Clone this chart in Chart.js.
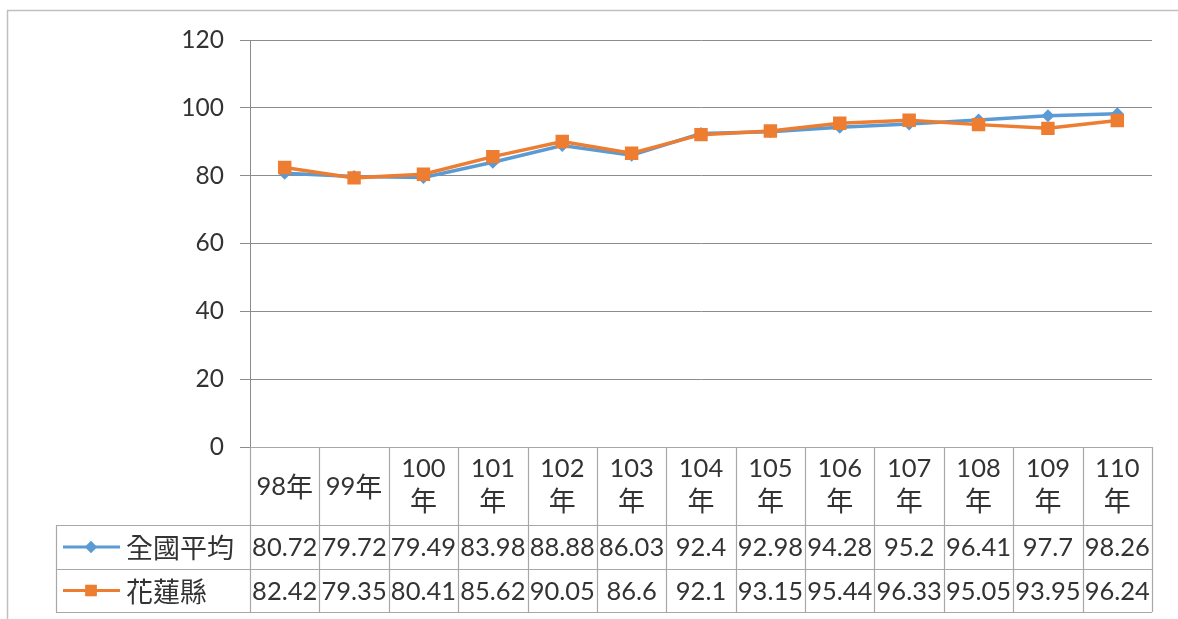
<!DOCTYPE html>
<html><head><meta charset="utf-8">
<script src="https://cdn.jsdelivr.net/npm/chart.js@4.4.1/dist/chart.umd.min.js"></script>
<style>
html,body{margin:0;padding:0;background:#fff;}
#wrap{position:relative;width:1178px;height:619px;}
</style></head>
<body>
<div id="wrap"><canvas id="c"></canvas></div>
<script>
const categories = ['98年','99年','100年','101年','102年','103年','104年','105年','106年','107年','108年','109年','110年'];
const seriesNames = ['全國平均','花蓮縣'];
const nationalAvg = [80.72,79.72,79.49,83.98,88.88,86.03,92.4,92.98,94.28,95.2,96.41,97.7,98.26];
const hualien = [82.42,79.35,80.41,85.62,90.05,86.6,92.1,93.15,95.44,96.33,95.05,93.95,96.24];
const yTicks = [0,20,40,60,80,100,120];

const BLUE = '#5B9BD5', ORANGE = '#ED7D31';
const TXT = '#333333';
const NUMF = "25.5px Lato, sans-serif";
const CJKF = "27px 'Noto Sans CJK TC', sans-serif";
const BORDER = '#a8a8a8';

function mixedText(ctx, s, cx, cy) {
  // draw string with digits in Lato and CJK in Noto, centered at cx
  const parts = s.match(/[0-9.]+|[^0-9.]+/g);
  const fonts = parts.map(p => /[0-9.]/.test(p[0]) ? NUMF : CJKF);
  let total = 0;
  const widths = parts.map((p, i) => { ctx.font = fonts[i]; const w = ctx.measureText(p).width; total += w; return w; });
  let xx = cx - total / 2;
  ctx.textAlign = 'left';
  parts.forEach((p, i) => { ctx.font = fonts[i]; ctx.fillText(p, xx, cy); xx += widths[i]; });
  ctx.textAlign = 'center';
  return total;
}

const tablePlugin = {
  id: 'dataTable',
  afterDraw(chart) {
    const ctx = chart.ctx, x = chart.scales.x, a = chart.chartArea;
    const n = categories.length;
    const colW = (a.right - a.left) / n;
    const top = a.bottom, r1 = 525, r2 = 569, bot = 612, legL = 56;
    ctx.save();
    ctx.strokeStyle = '#c0c0c0'; ctx.lineWidth = 1.5;
    ctx.beginPath(); ctx.moveTo(7.5, 619); ctx.lineTo(7.5, 10.5); ctx.lineTo(1178, 10.5); ctx.stroke();
    ctx.strokeStyle = BORDER; ctx.lineWidth = 1.2;
    ctx.beginPath();
    for (let i = 0; i <= n; i++) {
      const xx = Math.round(a.left + i * colW) + 0.5;
      ctx.moveTo(xx, top); ctx.lineTo(xx, bot);
    }
    ctx.moveTo(a.left, top + 0.5); ctx.lineTo(a.right, top + 0.5);
    [r1, r2, bot].forEach(yy => { ctx.moveTo(legL, yy + 0.5); ctx.lineTo(a.right, yy + 0.5); });
    ctx.moveTo(legL + 0.5, r1); ctx.lineTo(legL + 0.5, bot);
    ctx.stroke();
    ctx.fillStyle = TXT; ctx.textAlign = 'center'; ctx.textBaseline = 'middle';
    categories.forEach((c, i) => {
      const cx = x.getPixelForValue(i);
      const num = c.replace('年', '');
      ctx.font = NUMF;
      const wNum = ctx.measureText(num).width;
      ctx.font = CJKF;
      const wC = ctx.measureText('年').width;
      if (wNum + wC > colW - 4) {
        ctx.font = NUMF; ctx.fillText(num, cx, 469);
        ctx.font = CJKF; ctx.fillText('年', cx, 501);
      } else {
        mixedText(ctx, c, cx, 487);
      }
    });
    ctx.font = NUMF;
    const rows = [[nationalAvg, (r1 + r2) / 2 + 1], [hualien, (r2 + bot) / 2 + 1]];
    rows.forEach(([vals, yy]) => {
      vals.forEach((v, i) => ctx.fillText(String(v), x.getPixelForValue(i), yy));
    });
    const keys = [[BLUE, 'rectRot', 6, (r1 + r2) / 2], [ORANGE, 'rect', 8, (r2 + bot) / 2]];
    keys.forEach(([col, style, rad, yy], k) => {
      ctx.strokeStyle = col; ctx.lineWidth = 3;
      ctx.beginPath(); ctx.moveTo(63, yy); ctx.lineTo(120, yy); ctx.stroke();
      ctx.fillStyle = col;
      Chart.helpers.drawPoint(ctx, {pointStyle: style, radius: rad, rotation: 0, borderWidth: 0}, 91, yy);
      ctx.fill();
      ctx.fillStyle = TXT; ctx.textAlign = 'left'; ctx.font = CJKF;
      ctx.fillText(seriesNames[k], 126, yy + 1);
    });
    ctx.restore();
  }
};

new Chart(document.getElementById('c'), {
  type: 'line',
  data: {
    labels: categories,
    datasets: [
      {label: seriesNames[0], data: nationalAvg, borderColor: BLUE, backgroundColor: BLUE,
       borderWidth: 3.5, pointStyle: 'rectRot', pointRadius: 6.5, pointBorderWidth: 0, order: 2, tension: 0},
      {label: seriesNames[1], data: hualien, borderColor: ORANGE, backgroundColor: ORANGE,
       borderWidth: 3.5, pointStyle: 'rect', pointRadius: 9.5, pointBorderWidth: 0, order: 1, tension: 0}
    ]
  },
  options: {
    responsive: true, maintainAspectRatio: false, animation: false,
    layout: {padding: {left: 0, top: 40, right: 26, bottom: 172}},
    plugins: {legend: {display: false}, tooltip: {enabled: false}},
    scales: {
      x: {display: false, offset: true},
      y: {
        min: 0, max: 120,
        afterFit(s) { s.width = 250; },
        afterBuildTicks(s) { s.ticks = yTicks.map(v => ({value: v})); },
        grid: {color: '#8c8c8c', lineWidth: 1, tickLength: 10, drawTicks: true},
        border: {display: true, color: '#8c8c8c', width: 1},
        ticks: {color: TXT, font: {family: "Lato, sans-serif", size: 24.5}, padding: 16}
      }
    }
  },
  plugins: [tablePlugin]
});
</script>
</body></html>
